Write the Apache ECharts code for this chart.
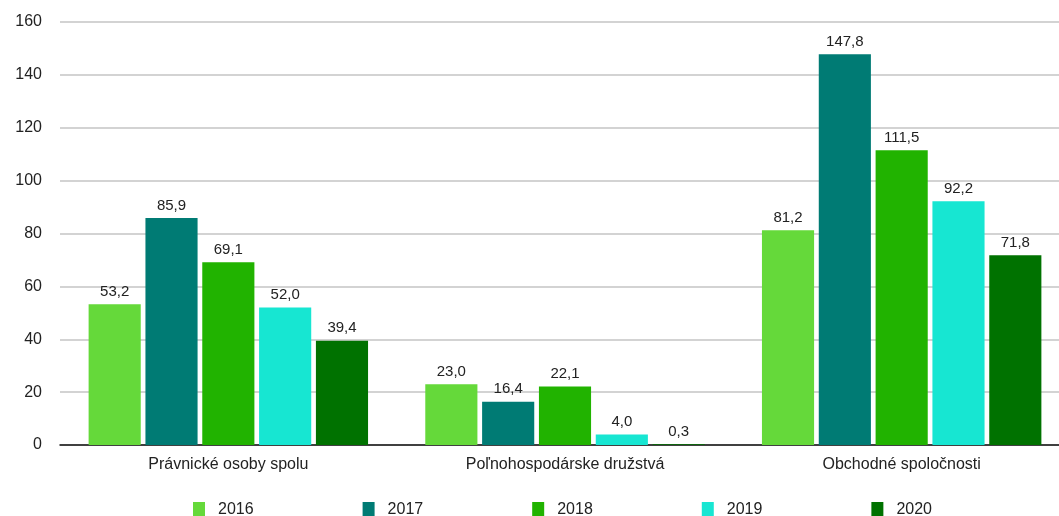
<!DOCTYPE html>
<html lang="sk">
<head>
<meta charset="utf-8" />
<title>Graf</title>
<style>
  html, body { margin: 0; padding: 0; background: #fff; overflow: hidden; }
  #chart { width: 1070px; height: 516px; }
</style>
</head>
<body>
<div id="chart"></div>
<script src="https://cdn.jsdelivr.net/npm/echarts@6/dist/echarts.min.js"></script>
<script>
// kategórie a hodnoty
var categories = ['Právnické osoby spolu', 'Poľnohospodárske družstvá', 'Obchodné spoločnosti'];
var years = ['2016', '2017', '2018', '2019', '2020'];
var v2016 = [53.2, 23.0, 81.2];
var v2017 = [85.9, 16.4, 147.8];
var v2018 = [69.1, 22.1, 111.5];
var v2019 = [52.0, 4.0, 92.2];
var v2020 = [39.4, 0.3, 71.8];
var yTicks = [0, 20, 40, 60, 80, 100, 120, 140, 160];

var colors = ['#65d93a', '#007b74', '#21b300', '#17e6d2', '#007200'];
var values = [v2016, v2017, v2018, v2019, v2020];
var font = 'Liberation Sans, Arial, sans-serif';

var chart = echarts.init(document.getElementById('chart'));

var series = years.map(function (y, i) {
  return {
    name: y,
    type: 'bar',
    data: values[i],
    barGap: '9%',
    barCategoryGap: '17%',
    itemStyle: { color: colors[i] },
    label: {
      show: true,
      position: 'top',
      distance: 5,
      color: '#222',
      fontSize: 15,
      fontFamily: font,
      formatter: function (p) { return p.value.toFixed(1).replace('.', ','); }
    }
  };
});

chart.setOption({
  animation: false,
  color: colors,
  grid: { left: 60, right: 0, top: 22, bottom: 71, containLabel: false },
  legend: {
    top: 497,
    left: 188,
    itemWidth: 12,
    itemHeight: 16,
    itemGap: 109,
    icon: 'rect',
    textStyle: { color: '#222', fontSize: 16, fontFamily: font, padding: [0, 0, 0, 8] },
    data: years
  },
  xAxis: {
    type: 'category',
    data: categories,
    axisTick: { show: false },
    axisLine: { lineStyle: { color: '#111', width: 1.5 } },
    axisLabel: { color: '#222', fontSize: 16, fontFamily: font, margin: 12 }
  },
  yAxis: {
    type: 'value',
    min: yTicks[0],
    max: yTicks[yTicks.length - 1],
    interval: 20,
    axisLine: { show: false },
    axisTick: { show: false },
    splitLine: { lineStyle: { color: '#c4c4c4', width: 1.5 } },
    axisLabel: { color: '#222', fontSize: 16, fontFamily: font, margin: 18 }
  },
  series: series
});

window.onresize = function () { chart.resize(); };
</script>
</body>
</html>
